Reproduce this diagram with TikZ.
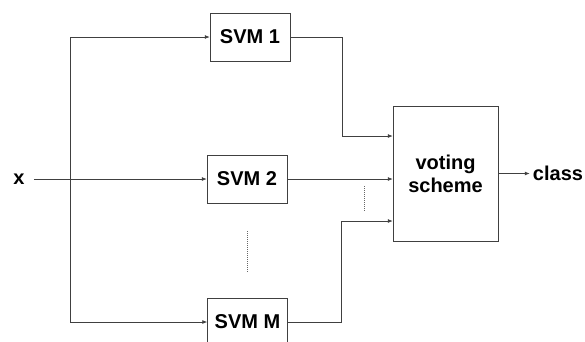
\documentclass[tikz,border=0pt]{standalone}
\usepackage{fontspec}
\setmainfont{Liberation Sans}
\usetikzlibrary{arrows.meta}
\begin{document}
\begin{tikzpicture}[x=1pt,y=-1pt,font=\bfseries\fontsize{20}{23}\selectfont,
  box/.style={draw=black!75,minimum width=80pt,minimum height=48pt,inner sep=0pt},
  wire/.style={draw=black!75,line width=0.8pt},
  arr/.style={wire,-{Latex[length=5pt,width=4pt]}},
  dots/.style={draw=black!60,line width=0.7pt,dash pattern=on 1pt off 1pt}]
  \useasboundingbox (0,0) rectangle (585,341);
  \node[inner sep=2pt,inner xsep=9pt] (x) at (19,179) {x};
  \node[box] (svm1) at (250,37) {SVM 1};
  \node[box] (svm2) at (247,179) {SVM 2};
  \node[box] (svmm) at (247.5,322) {SVM M};
  \node[box,minimum width=105pt,minimum height=135pt,align=center] (vote) at (445.5,173.5) {voting\\scheme};
  \node[inner sep=3pt] (class) at (558,173.5) {class};
  % inputs
  \coordinate (top) at (70,37);
  \coordinate (bot) at (70,322);
  \draw[arr] (x) -- (svm2);
  \draw[wire] (top) -- (bot);
  \draw[arr] (top) -- (svm1);
  \draw[arr] (bot) -- (svmm);
  \draw[dots] (247,231) -- (247,272);
  % outputs
  \coordinate (k1) at (342,136);
  \coordinate (k3) at (341,221);
  \draw[arr] (svm1) -| (k1) -- (k1 -| vote.west);
  \draw[arr] (svm2) -- (svm2 -| vote.west);
  \draw[arr] (svmm) -| (k3) -- (k3 -| vote.west);
  \draw[dots] (364,186) -- (364,212);
  \draw[arr] (vote) -- (class);
\end{tikzpicture}
\end{document}
